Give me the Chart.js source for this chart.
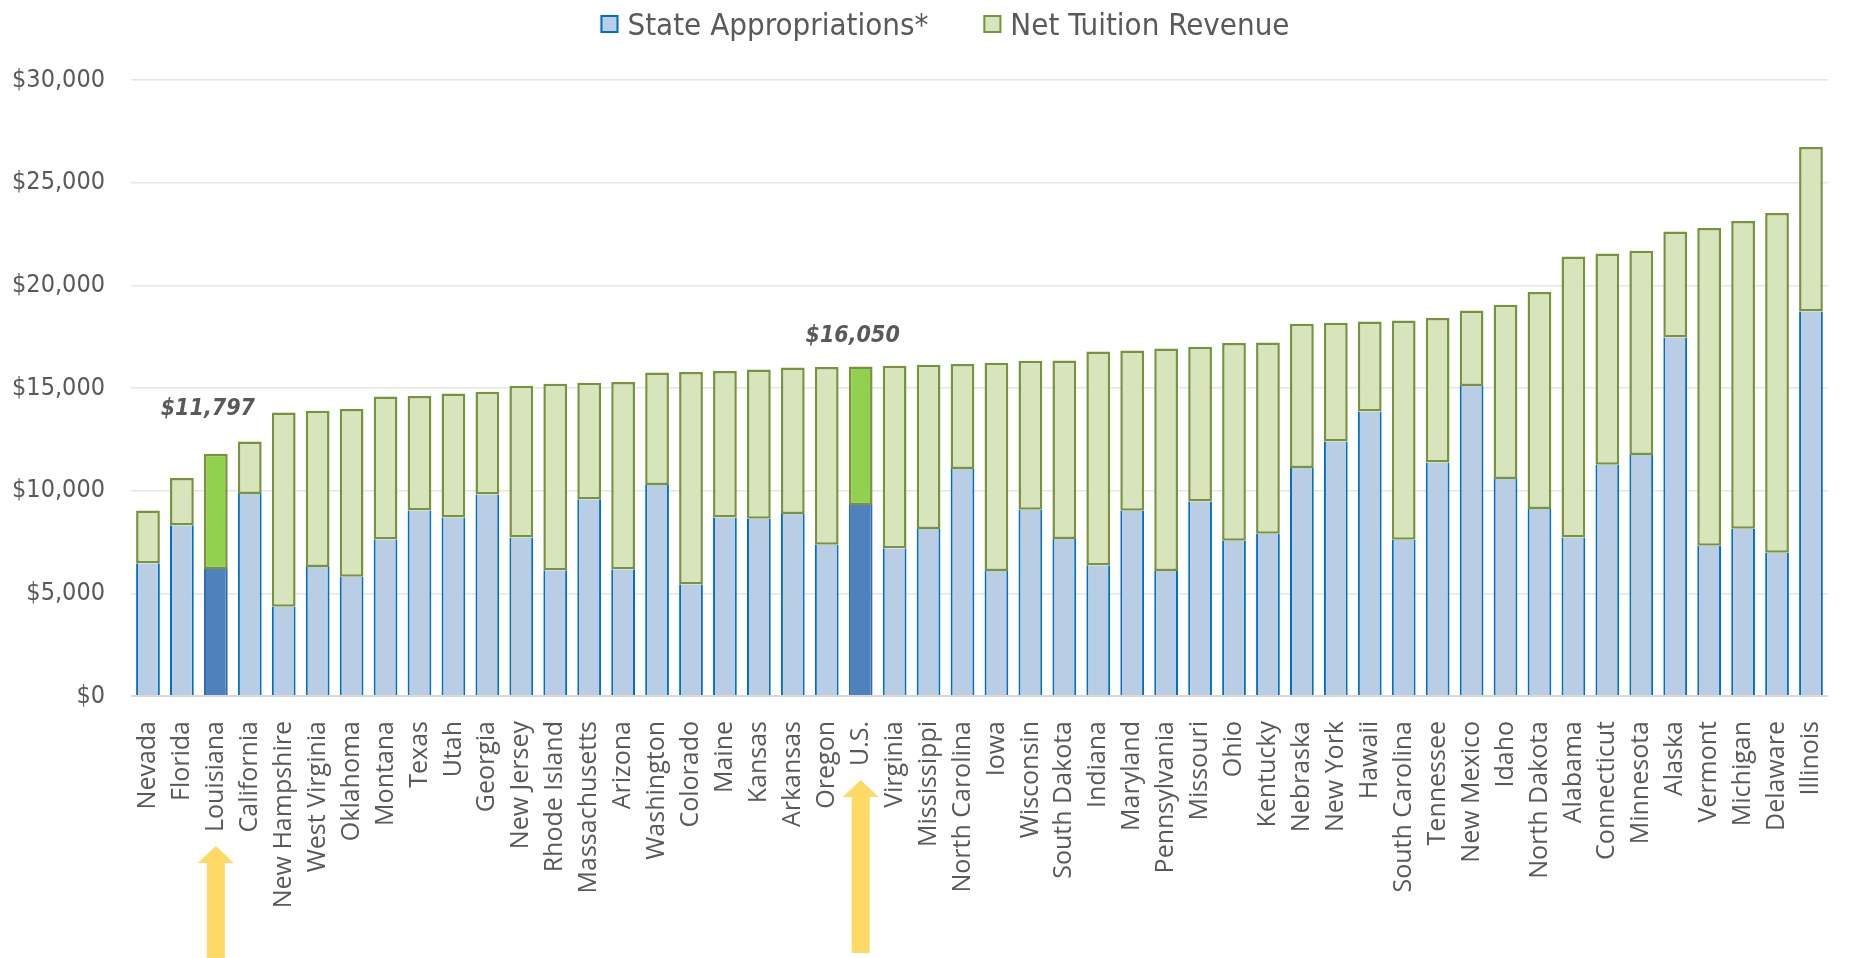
<!DOCTYPE html>
<html>
<head>
<meta charset="utf-8">
<title>State Appropriations and Net Tuition Revenue per FTE</title>
<script src="https://cdn.jsdelivr.net/npm/chart.js@4.4.1/dist/chart.umd.min.js"></script>
<style>
  html, body { margin: 0; padding: 0; background: #ffffff; }
  #wrap { width: 1858px; height: 958px; }
</style>
</head>
<body>
<div id="wrap"><canvas id="fundingChart" width="1858" height="958"></canvas></div>
<script>
// Categories, sorted by total revenue per FTE
const states = [
    'Nevada', 'Florida', 'Louisiana', 'California', 'New Hampshire', 'West Virginia', 'Oklahoma',
    'Montana', 'Texas', 'Utah', 'Georgia', 'New Jersey', 'Rhode Island', 'Massachusetts', 'Arizona',
    'Washington', 'Colorado', 'Maine', 'Kansas', 'Arkansas', 'Oregon', 'U.S.', 'Virginia',
    'Mississippi', 'North Carolina', 'Iowa', 'Wisconsin', 'South Dakota', 'Indiana', 'Maryland',
    'Pennsylvania', 'Missouri', 'Ohio', 'Kentucky', 'Nebraska', 'New York', 'Hawaii',
    'South Carolina', 'Tennessee', 'New Mexico', 'Idaho', 'North Dakota', 'Alabama', 'Connecticut',
    'Minnesota', 'Alaska', 'Vermont', 'Michigan', 'Delaware', 'Illinois'
];

// State appropriations per FTE (bottom segment)
const appropriations = [
    6460, 8310, 6184, 9835, 4350, 6281, 5810,
    7628, 9040, 8699, 9819, 7725, 6119, 9576, 6167,
    10274, 5437, 8699, 8634, 8862, 7368, 9300, 7190,
    8131, 11053, 6086, 9073, 7644, 6362, 9024,
    6086, 9478, 7563, 7904, 11101, 12400, 13860,
    7612, 11377, 15094, 10566, 9105, 7725, 11264,
    11734, 17463, 7320, 8147, 6979, 18729
];

// Net tuition revenue per FTE (top segment)
const netTuition = [
    2580, 2305, 5613, 2565, 9462, 7612, 8164,
    6963, 5567, 6038, 4999, 7385, 9089, 5680, 9122,
    5485, 10339, 7125, 7271, 7141, 8651, 6750, 8890,
    8002, 5112, 10144, 7254, 8700, 10420, 7807,
    10842, 7531, 9625, 9316, 7028, 5778, 4383,
    10679, 7028, 3684, 8488, 10566, 13682, 10289,
    9949, 5162, 15467, 14981, 16538, 8002
];

// Y axis ticks
const yTicks = [0, 5000, 10000, 15000, 20000, 25000, 30000];

// Bars that get the darker colours, with their callout text
const highlighted = ['Louisiana', 'U.S.'];
const callouts = {
    'Louisiana': { text: '$11,797', lift: 45, arrowBottom: 958 },
    'U.S.': { text: '$16,050', lift: 30, arrowBottom: 953 }
};

const textColor = '#595959';
const tickFont = '"DejaVu Sans Condensed", "DejaVu Sans", sans-serif';
const labelFont = '"Open Sans", "Noto Sans", sans-serif';

const legendItems = [
    { text: 'State Appropriations*', fill: '#B9CDE5', stroke: '#0070C0' },
    { text: 'Net Tuition Revenue', fill: '#D8E4BC', stroke: '#77933C' }
];

// Legend drawn on the canvas so spacing can match the original
const legendPlugin = {
    id: 'topLegend',
    afterDraw(chart) {
        const ctx = chart.ctx;
        ctx.save();
        ctx.font = '31px ' + tickFont;
        const widths = legendItems.map(item => ctx.measureText(item.text).width);
        const total = widths.reduce((a, w) => a + 18 + 9 + w, 0) + 55 * (legendItems.length - 1);
        let x = chart.width / 2 + 16 - total / 2;
        legendItems.forEach((item, i) => {
            ctx.fillStyle = item.fill;
            ctx.strokeStyle = item.stroke;
            ctx.lineWidth = 2;
            ctx.fillRect(x, 15, 18, 18);
            ctx.strokeRect(x + 1, 16, 16, 16);
            ctx.fillStyle = textColor;
            ctx.textBaseline = 'alphabetic';
            ctx.fillText(item.text, x + 27, 35);
            x += 27 + widths[i] + 55;
        });
        ctx.restore();
    }
};

// Value callouts above the highlighted bars and the yellow arrows under their labels
const calloutPlugin = {
    id: 'callouts',
    afterDraw(chart) {
        const ctx = chart.ctx;
        const xScale = chart.scales.x;
        const yScale = chart.scales.y;
        ctx.save();
        highlighted.forEach(name => {
            const i = states.indexOf(name);
            const c = callouts[name];
            const x = xScale.getPixelForValue(i);
            const top = yScale.getPixelForValue(appropriations[i] + netTuition[i]);

            ctx.font = 'italic bold 23px ' + tickFont;
            ctx.fillStyle = textColor;
            ctx.textAlign = 'center';
            ctx.textBaseline = 'middle';
            ctx.fillText(c.text, x - 8, top - c.lift);

            ctx.font = '25px ' + labelFont;
            const labelLen = ctx.measureText(name).width;
            const tip = xScale.top + 17 + labelLen + 22;
            ctx.fillStyle = '#FFD966';
            ctx.beginPath();
            ctx.moveTo(x, tip);
            ctx.lineTo(x + 18, tip + 17);
            ctx.lineTo(x + 9, tip + 17);
            ctx.lineTo(x + 9, c.arrowBottom);
            ctx.lineTo(x - 9, c.arrowBottom);
            ctx.lineTo(x - 9, tip + 17);
            ctx.lineTo(x - 18, tip + 17);
            ctx.closePath();
            ctx.fill();
        });
        ctx.restore();
    }
};

const ctx = document.getElementById('fundingChart').getContext('2d');

new Chart(ctx, {
    type: 'bar',
    data: {
        labels: states,
        datasets: [{
            label: 'State Appropriations*',
            data: appropriations,
            backgroundColor: states.map(s => highlighted.includes(s) ? '#4F81BD' : '#B9CDE5'),
            borderColor: states.map(s => highlighted.includes(s) ? '#2C6AAE' : '#0070C0'),
            borderWidth: { top: 0, left: 2, right: 2, bottom: 0 },
            borderSkipped: false,
            barPercentage: 0.7,
            categoryPercentage: 1.0
        }, {
            label: 'Net Tuition Revenue',
            data: netTuition,
            backgroundColor: states.map(s => highlighted.includes(s) ? '#92D050' : '#D8E4BC'),
            borderColor: '#77933C',
            borderWidth: 2.5,
            borderSkipped: false,
            barPercentage: 0.7,
            categoryPercentage: 1.0
        }]
    },
    options: {
        responsive: false,
        animation: false,
        layout: { padding: { top: 80, right: 3, left: 0, bottom: 0 } },
        plugins: {
            legend: { display: false },
            tooltip: { enabled: false }
        },
        scales: {
            x: {
                stacked: true,
                grid: { display: false },
                border: { display: false },
                ticks: {
                    autoSkip: false,
                    maxRotation: 90,
                    minRotation: 90,
                    padding: 17,
                    color: textColor,
                    font: { family: labelFont, size: 25 }
                },
                afterFit: scale => { scale.height = 262; }
            },
            y: {
                stacked: true,
                min: 0,
                max: 30000,
                afterBuildTicks: scale => { scale.ticks = yTicks.map(v => ({ value: v })); },
                grid: {
                    drawTicks: false,
                    color: c => c.tick && c.tick.value === 0 ? '#D9D9D9' : '#E6E6E6',
                    lineWidth: c => c.tick && c.tick.value === 0 ? 2 : 1.5
                },
                border: { display: false },
                ticks: {
                    padding: 26,
                    color: textColor,
                    font: { family: tickFont, size: 25 },
                    callback: v => '$' + Number(v).toLocaleString('en-US')
                },
                afterFit: scale => { scale.width = 131; }
            }
        }
    },
    plugins: [legendPlugin, calloutPlugin]
});
</script>
</body>
</html>
